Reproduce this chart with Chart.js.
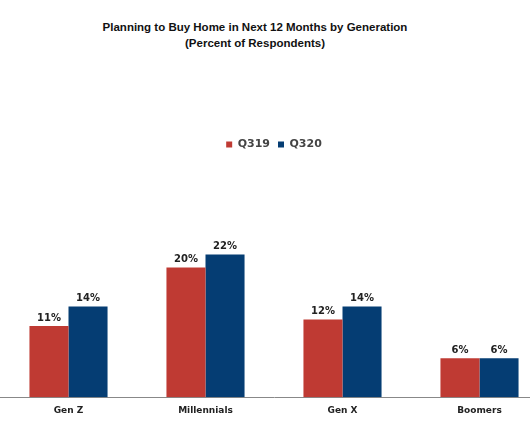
<!DOCTYPE html>
<html lang="en">
<head>
    <meta charset="UTF-8">
    <title>Planning to Buy Home in Next 12 Months by Generation</title>
    <script src="https://cdn.jsdelivr.net/npm/chart.js@4.4.0/dist/chart.umd.min.js"></script>
    <style>
        html, body { margin: 0; padding: 0; background: #fff; overflow: hidden; width: 530px; height: 442px; }
        #title {
            position: absolute; left: 0; top: 19px; width: 510px;
            text-align: center; font: bold 11.5px "Liberation Sans", Arial, sans-serif;
            line-height: 16px; color: #111;
        }
        #wrap { position: absolute; left: 0; top: 0; width: 548px; height: 442px; }
    </style>
</head>
<body>
    <div id="title">Planning to Buy Home in Next 12 Months by Generation<br>(Percent of Respondents)</div>
    <div id="wrap"><canvas id="chart" width="548" height="442"></canvas></div>

    <script>
        // data
        var generations = ['Gen Z', 'Millennials', 'Gen X', 'Boomers'];
        var q319 = [11, 20, 12, 6];
        var q320 = [14, 22, 14, 6];

        // draws the "11%" style labels over every bar
        var valueLabels = {
            id: 'valueLabels',
            afterDatasetsDraw: function (chart) {
                var ctx = chart.ctx;
                ctx.save();
                ctx.font = 'bold 10px "DejaVu Sans", Verdana, sans-serif';
                ctx.fillStyle = '#222';
                ctx.textAlign = 'center';
                ctx.textBaseline = 'bottom';
                chart.data.datasets.forEach(function (ds, i) {
                    chart.getDatasetMeta(i).data.forEach(function (bar, j) {
                        ctx.fillText(ds.data[j] + '%', bar.x, bar.y - 3);
                    });
                });
                ctx.restore();
            }
        };

        new Chart(document.getElementById('chart'), {
            type: 'bar',
            data: {
                labels: generations,
                datasets: [
                    { label: 'Q319', data: q319, backgroundColor: '#BF3A33' },
                    { label: 'Q320', data: q320, backgroundColor: '#053D73' }
                ]
            },
            options: {
                responsive: false,
                animation: false,
                layout: { padding: { top: 131, bottom: 26, left: 0, right: 0 } },
                datasets: { bar: { categoryPercentage: 0.57, barPercentage: 1 } },
                plugins: {
                    title: { display: false },
                    tooltip: { enabled: false },
                    legend: {
                        display: true,
                        labels: {
                            usePointStyle: true,
                            pointStyle: 'rect',
                            boxWidth: 6,
                            boxHeight: 6,
                            padding: 8,
                            color: '#444',
                            font: { family: '"DejaVu Sans", Verdana, sans-serif', size: 11, weight: 'bold' }
                        }
                    }
                },
                scales: {
                    x: {
                        grid: { display: false },
                        border: { display: true, color: '#888', width: 1 },
                        ticks: {
                            color: '#222',
                            padding: 0,
                            font: { family: '"DejaVu Sans", Verdana, sans-serif', size: 9, weight: 'bold' }
                        }
                    },
                    y: {
                        display: false,
                        min: 0,
                        max: 36.6
                    }
                }
            },
            plugins: [valueLabels]
        });
    </script>
</body>
</html>
